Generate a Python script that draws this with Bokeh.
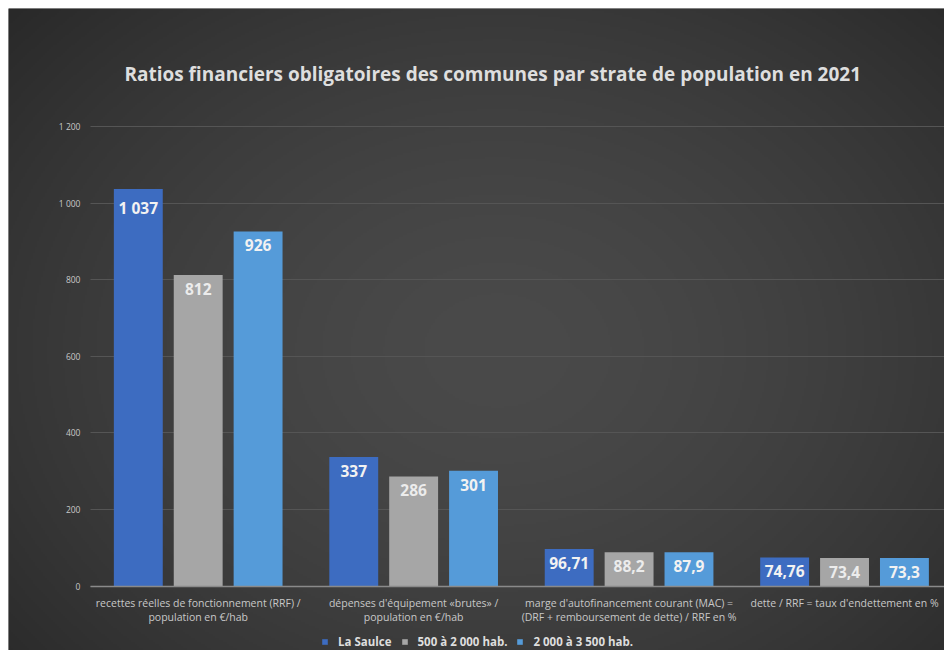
import numpy as np
from bokeh.plotting import figure
from bokeh.layouts import column, row
from bokeh.models import (Label, Legend, LegendItem, FixedTicker, ColumnDataSource,
                          Range1d, Spacer, Grid)
from bokeh.core.properties import value
from bokeh.embed import file_html
from bokeh.resources import INLINE

# ---- data ----
title_text = "Ratios financiers obligatoires des communes par strate de population en 2021"
categories = [
    "recettes réelles de fonctionnement (RRF) /\npopulation en €/hab",
    "dépenses d'équipement «brutes» /\npopulation en €/hab",
    "marge d'autofinancement courant (MAC) =\n(DRF + remboursement de dette) / RRF en %",
    "dette / RRF = taux d'endettement en %",
]
series_names = ["La Saulce", "500 à 2 000 hab.", "2 000 à 3 500 hab."]
la_saulce = [1037, 337, 96.71, 74.76]
strate_500_2000 = [812, 286, 88.2, 73.4]
strate_2000_3500 = [926, 301, 87.9, 73.3]
y_ticks = [0, 200, 400, 600, 800, 1000, 1200]
y_tick_labels = ["0", "200", "400", "600", "800", "1 000", "1 200"]

# ---- style ----
colors = ["#3d6cc1", "#a6a6a6", "#559bd9"]
label_colors = ["#f2f2f2", "#ececec", "#f2f2f2"]
bg = "#353535"
FONT = "Open Sans"
W, H = 936, 642


def fr(v):
    return f"{v:,}".replace(",", " ").replace(".", ",")


x_rng = Range1d(-0.3805, 3.964)
y_rng = Range1d(-168.4, 1508.1)
p = figure(width=W, height=H, output_backend="svg", toolbar_location=None,
           x_range=x_rng, y_range=y_rng,
           min_border_left=0, min_border_right=0, min_border_top=0,
           min_border_bottom=0)
p.title.visible = False
p.background_fill_color = bg
p.border_fill_color = bg
p.outline_line_color = None

# soft radial background shading (decoration, spans the whole frame)
gy, gx = np.mgrid[0:H // 2, 0:W // 2]
cx, cy = (W / 2 + 20) / 2, (H / 2 + 20) / 2
d = np.sqrt(((gx - cx) / (W / 2 * 0.62)) ** 2 + ((gy - cy) / (H / 2 * 0.70)) ** 2)
lev = np.clip(74 - 27 * d ** 1.6, 35, 74).astype(np.uint32)
img = (255 << 24) | (lev << 16) | (lev << 8) | lev
p.image_rgba(image=[img[::-1].view(np.uint32)], x=x_rng.start, y=y_rng.start,
             dw=x_rng.end - x_rng.start, dh=y_rng.end - y_rng.start, level="image")

offsets = [-0.278, 0.0, 0.278]
bar_w = 0.227
all_series = [la_saulce, strate_500_2000, strate_2000_3500]
renderers = []
for s, vals in enumerate(all_series):
    xs = [i + 0.5 + offsets[s] for i in range(len(categories))]
    src = ColumnDataSource(dict(x=xs, top=vals, lab=[fr(v) for v in vals]))
    r = p.vbar(x="x", top="top", width=bar_w, source=src, fill_color=colors[s],
               line_color=None)
    renderers.append(r)
    p.text(x="x", y="top", text="lab", source=src, text_align="center",
           text_baseline="top", y_offset=8, text_color=label_colors[s],
           text_font=value(FONT), text_font_style="bold", text_font_size="15.5px")

# y axis
p.yaxis.fixed_location = 0
p.yaxis.ticker = FixedTicker(ticks=y_ticks)
p.yaxis.major_label_overrides = {t: l for t, l in zip(y_ticks, y_tick_labels)}
p.yaxis.axis_line_color = None
p.yaxis.major_tick_line_color = None
p.yaxis.minor_tick_line_color = None
p.yaxis.major_label_text_color = "#c8c8c8"
p.yaxis.major_label_text_font = FONT
p.yaxis.major_label_text_font_size = "8.5px"
p.yaxis.major_label_standoff = 4

# x axis
x_ticks = [i + 0.5 for i in range(len(categories))]
p.xaxis.fixed_location = 0
p.xaxis.bounds = (0, len(categories))
p.xaxis.ticker = FixedTicker(ticks=x_ticks)
p.xaxis.major_label_overrides = {t: c for t, c in zip(x_ticks, categories)}
p.xaxis.axis_line_color = "#8a8a8a"
p.xaxis.axis_line_width = 1.5
p.xaxis.major_tick_line_color = None
p.xaxis.minor_tick_line_color = None
p.xaxis.major_label_text_color = "#c8c8c8"
p.xaxis.major_label_text_font = FONT
p.xaxis.major_label_text_font_size = "10.5px"
p.xaxis.major_label_text_line_height = 1.0
p.xaxis.major_label_standoff = 4

p.xgrid.grid_line_color = None
p.ygrid.grid_line_color = "#555555"
p.ygrid.grid_line_width = 1
if "cross_bounds" in Grid.properties():
    p.ygrid.cross_bounds = (0, len(categories))

# title
p.add_layout(Label(x=1.867, y=1336, text=title_text, text_align="center",
                   text_baseline="middle", text_color="#dedede",
                   text_font=FONT, text_font_style="bold",
                   text_font_size="19px"))

# legend
legend = Legend(items=[LegendItem(label=n, renderers=[r]) for n, r in zip(series_names, renderers)],
                orientation="horizontal", location=(313, 1),
                background_fill_alpha=0, border_line_alpha=0,
                label_text_color="#dedede", label_text_font=FONT,
                label_text_font_style="bold", label_text_font_size="11.5px",
                glyph_width=7, glyph_height=7, label_standoff=10, spacing=9,
                padding=0, margin=0, label_height=11)
p.add_layout(legend, "center")

layout = column(Spacer(height=8), row(Spacer(width=8), p))
open("out.html", "w").write(file_html(layout, INLINE))
